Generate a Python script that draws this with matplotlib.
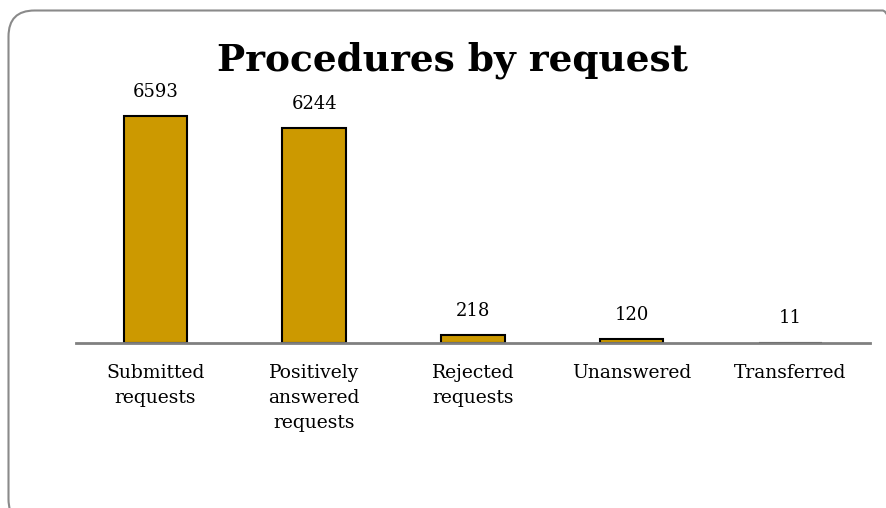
import numpy as np
import matplotlib.pyplot as plt
from matplotlib.patches import FancyBboxPatch
from matplotlib.transforms import IdentityTransform

categories = ['Submitted\nrequests', 'Positively\nanswered\nrequests', 'Rejected\nrequests',
              'Unanswered', 'Transferred']
values = [6593, 6244, 218, 120, 11]

plt.rcParams['font.family'] = 'DejaVu Serif'

fig = plt.figure(figsize=(8.86, 5.08), dpi=100)

# rounded outer frame, runs off the right and bottom edges (pixel coords)
frame = FancyBboxPatch((8.5, -17), 900, 514.5, boxstyle='round,pad=0,rounding_size=26',
                       transform=IdentityTransform(), facecolor='none', edgecolor='#8a8a8a',
                       linewidth=1.5, zorder=-1)
fig.patches.append(frame)

ax = fig.add_axes([0.0858, 0.3248, 0.896, 0.542])
ax.patch.set_alpha(0)

x = np.arange(len(categories))
ax.bar(x, values, width=0.4, color='#CC9900', edgecolor='black', linewidth=1.5, zorder=2)

for xi, v in zip(x, values):
    ax.annotate(str(v), (xi, v), xytext=(0, 11), textcoords='offset points',
                ha='center', va='bottom', fontsize=13)

ax.set_xlim(-0.5, 4.5)
ax.set_ylim(0, 8000)
ax.set_xticks(x)
ax.set_xticklabels(categories, fontsize=13.5, linespacing=1.5)
ax.tick_params(axis='x', length=0, pad=15)
ax.set_yticks([])
for s in ['top', 'right', 'left']:
    ax.spines[s].set_visible(False)
ax.spines['bottom'].set_color('#808080')
ax.spines['bottom'].set_linewidth(2)
ax.spines['bottom'].set_zorder(3)

fig.text(0.511, 0.882, 'Procedures by request', ha='center', va='center',
         fontsize=27, fontweight='bold')

plt.savefig('out.png', dpi=100)
